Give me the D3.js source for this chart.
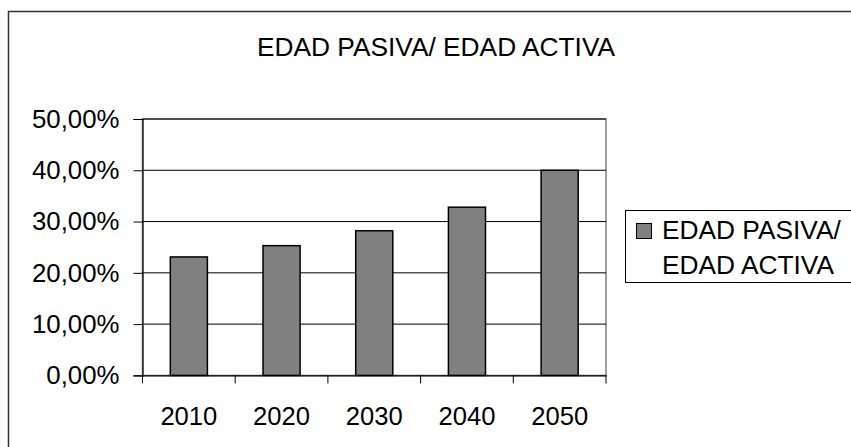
<!DOCTYPE html>
<html>
<head>
<meta charset="utf-8">
<script src="https://cdn.jsdelivr.net/npm/d3@7"></script>
<style>
  body { margin: 0; background: #fff; }
  svg text { font-family: "Liberation Sans", Arial, sans-serif; fill: #000; }
</style>
</head>
<body>
<div id="chart"></div>
<script>
'use strict';

var years = ['2010', '2020', '2030', '2040', '2050'];
var ratio = [0.231, 0.253, 0.282, 0.328, 0.400];
var yTicks = [0, 0.1, 0.2, 0.3, 0.4, 0.5];
var title = 'EDAD PASIVA/ EDAD ACTIVA';
var legendLines = ['EDAD PASIVA/', 'EDAD ACTIVA'];

var width = 851, height = 447;
var plot = {left: 142.5, right: 606, top: 119, bottom: 375.4};

var svg = d3.select('#chart').append('svg')
    .attr('width', width)
    .attr('height', height);

// outer chart frame (runs off the right and bottom edge)
svg.append('rect')
  .attr('x', 8.5).attr('y', 11.5)
  .attr('width', 900).attr('height', 500)
  .attr('fill', '#fff')
  .attr('stroke', '#333')
  .attr('stroke-width', 1.5);

svg.append('text')
  .attr('x', 436).attr('y', 55.5)
  .attr('text-anchor', 'middle')
  .style('font-size', '26.3px')
  .text(title);

var x = d3.scaleBand()
  .domain(years)
  .range([plot.left, plot.right])
  .padding(0);

var y = d3.scaleLinear()
  .domain([0, 0.5])
  .range([plot.bottom, plot.top]);

var fmt = function(d) { return d3.format('.2f')(d * 100).replace('.', ',') + '%'; };

// plot area border
svg.append('rect')
  .attr('x', plot.left).attr('y', plot.top)
  .attr('width', plot.right - plot.left)
  .attr('height', plot.bottom - plot.top)
  .attr('fill', 'none')
  .attr('stroke', '#808080')
  .attr('stroke-width', 1.5);

// gridlines
svg.append('g')
  .selectAll('line')
  .data(yTicks.slice(1))
  .enter()
  .append('line')
  .attr('x1', plot.left).attr('x2', plot.right)
  .attr('y1', function(d) { return y(d); })
  .attr('y2', function(d) { return y(d); })
  .attr('stroke', '#000')
  .attr('stroke-width', 1);

// bars
var barW = x.bandwidth() * 0.4;
svg.append('g')
  .selectAll('rect')
  .data(years)
  .enter()
  .append('rect')
  .attr('x', function(d) { return x(d) + (x.bandwidth() - barW) / 2; })
  .attr('y', function(d, i) { return y(ratio[i]); })
  .attr('width', barW)
  .attr('height', function(d, i) { return y(0) - y(ratio[i]); })
  .attr('fill', '#808080')
  .attr('stroke', '#000')
  .attr('stroke-width', 1.5);

// y axis
var yAxis = svg.append('g')
  .attr('transform', 'translate(' + plot.left + ',0)')
  .call(d3.axisLeft(y).tickValues(yTicks).tickFormat(fmt).tickSize(9).tickPadding(14));
yAxis.select('.domain').attr('stroke', '#000').attr('stroke-width', 1.2);
yAxis.selectAll('.tick line').attr('stroke', '#000');
yAxis.selectAll('.tick text')
  .style('font-size', '25.8px')
  .attr('font-family', null);

// x axis: ticks sit on the category boundaries
var xAxis = svg.append('g')
  .attr('transform', 'translate(0,' + plot.bottom + ')')
  .call(d3.axisBottom(x).tickSize(0).tickPadding(0));
xAxis.select('.domain').attr('stroke', '#000').attr('stroke-width', 1.2);
xAxis.selectAll('.tick text')
  .attr('y', 50)
  .attr('dy', 0)
  .style('font-size', '25.6px')
  .attr('font-family', null);

xAxis.append('g')
  .selectAll('line')
  .data(years.concat(['end']))
  .enter()
  .append('line')
  .attr('x1', function(d, i) { return plot.left + i * x.step(); })
  .attr('x2', function(d, i) { return plot.left + i * x.step(); })
  .attr('y1', 0).attr('y2', 8)
  .attr('stroke', '#000');

// legend
var legend = svg.append('g');
legend.append('rect')
  .attr('x', 625.5).attr('y', 210.5)
  .attr('width', 300).attr('height', 72)
  .attr('fill', '#fff')
  .attr('stroke', '#000')
  .attr('stroke-width', 1);
legend.append('rect')
  .attr('x', 636.5).attr('y', 223.5)
  .attr('width', 15).attr('height', 15)
  .attr('fill', '#808080')
  .attr('stroke', '#000')
  .attr('stroke-width', 1);
legend.selectAll('text.leg')
  .data(legendLines)
  .enter()
  .append('text')
  .attr('class', 'leg')
  .attr('x', 662)
  .attr('y', function(d, i) { return 239 + i * 35; })
  .style('font-size', '26.3px')
  .text(function(d) { return d; });
</script>
</body>
</html>
